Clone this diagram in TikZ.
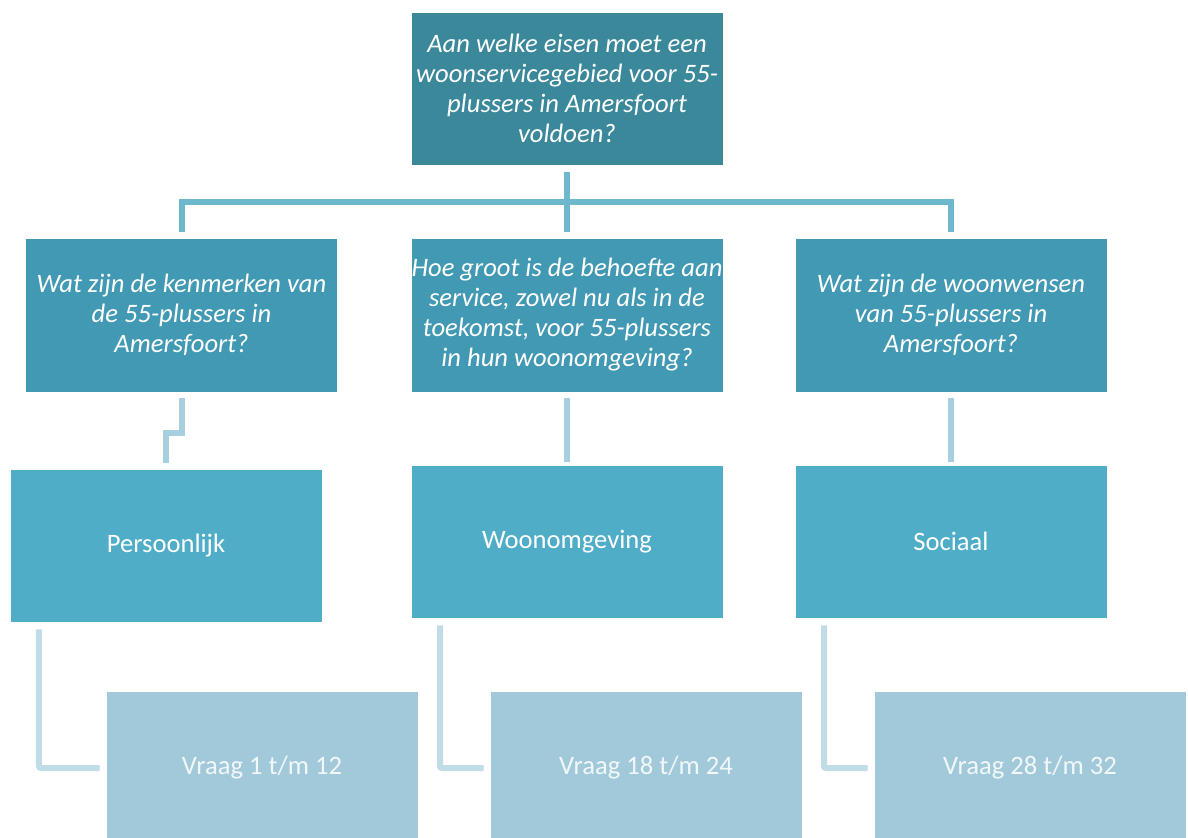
\documentclass[tikz,border=0pt]{standalone}
\usepackage{fontspec}
\setmainfont{Carlito}
\definecolor{cTop}{HTML}{3B889B}
\definecolor{cLtwo}{HTML}{4299B3}
\definecolor{cLthree}{HTML}{50ADC8}
\definecolor{cLfour}{HTML}{A2C9DA}
\definecolor{lnA}{HTML}{6DB7CF}
\definecolor{lnB}{HTML}{A6D0E0}
\definecolor{lnC}{HTML}{C0DDE7}
\definecolor{txtF}{HTML}{F2F8FA}
\begin{document}
\begin{tikzpicture}[x=1bp,y=-1bp,
  box/.style={rectangle,draw=white,line width=0.6bp,minimum width=312bp,minimum height=153bp,
    inner sep=0pt,text=white,align=center,font=\fontsize{26.6bp}{30bp}\selectfont},
  qbox/.style={box,font=\fontsize{26.6bp}{30bp}\selectfont\itshape},
  conA/.style={draw=lnA,line width=6bp},
  conB/.style={draw=lnB,line width=6bp},
  conC/.style={draw=lnC,line width=6bp,rounded corners=2bp}]
\useasboundingbox (0,0) rectangle (1188,838);
\clip (0,0) rectangle (1188,838);
\node[qbox,fill=cTop] (top) at (567,88.5) {Aan welke eisen moet een\\woonservicegebied voor 55-\\plussers in Amersfoort\\voldoen?};
\node[qbox,fill=cLtwo,minimum height=154bp] (l2) at (181.5,315) {Wat zijn de kenmerken van\\de 55-plussers in\\Amersfoort?};
\node[qbox,fill=cLtwo,minimum height=154bp] (m2) at (567,315) {Hoe groot is de behoefte aan\\service, zowel nu als in de\\toekomst, voor 55-plussers\\in hun woonomgeving?};
\node[qbox,fill=cLtwo,minimum height=154bp] (r2) at (951,315) {Wat zijn de woonwensen\\van 55-plussers in\\Amersfoort?};
\node[box,fill=cLthree] (l3) at (166,545.5) {Persoonlijk};
\node[box,fill=cLthree] (m3) at (567,541.5) {Woonomgeving};
\node[box,fill=cLthree] (r3) at (951,541.5) {Sociaal};
\node[box,fill=cLfour,text=txtF,minimum height=154bp] (l4) at (262,768) {Vraag 1 t/m 12};
\node[box,fill=cLfour,text=txtF,minimum height=154bp] (m4) at (646,768) {Vraag 18 t/m 24};
\node[box,fill=cLfour,text=txtF,minimum height=154bp] (r4) at (1030,768) {Vraag 28 t/m 32};
% level 1 -> 2
\draw[conA] ([yshift=-7bp]top.south) -- ([yshift=6bp]m2.north);
\draw[conA] ([yshift=6bp]l2.north) -- ([yshift=36bp]l2.north) -- ([yshift=36bp]r2.north) -- ([yshift=6bp]r2.north);
% level 2 -> 3
\draw[conB] ([yshift=-6bp]l2.south) -- ++(0,35) -| ([yshift=6bp]l3.north);
\draw[conB] ([yshift=-6bp]m2.south) -- ([yshift=3bp]m3.north);
\draw[conB] ([yshift=-6bp]r2.south) -- ([yshift=3bp]r3.north);
% level 3 -> 4
\draw[conC] ([xshift=-127bp,yshift=-7bp]l3.south) |- ([xshift=-6bp]l4.west);
\draw[conC] ([xshift=-127bp,yshift=-7bp]m3.south) |- ([xshift=-6bp]m4.west);
\draw[conC] ([xshift=-127bp,yshift=-7bp]r3.south) |- ([xshift=-6bp]r4.west);
\end{tikzpicture}
\end{document}
